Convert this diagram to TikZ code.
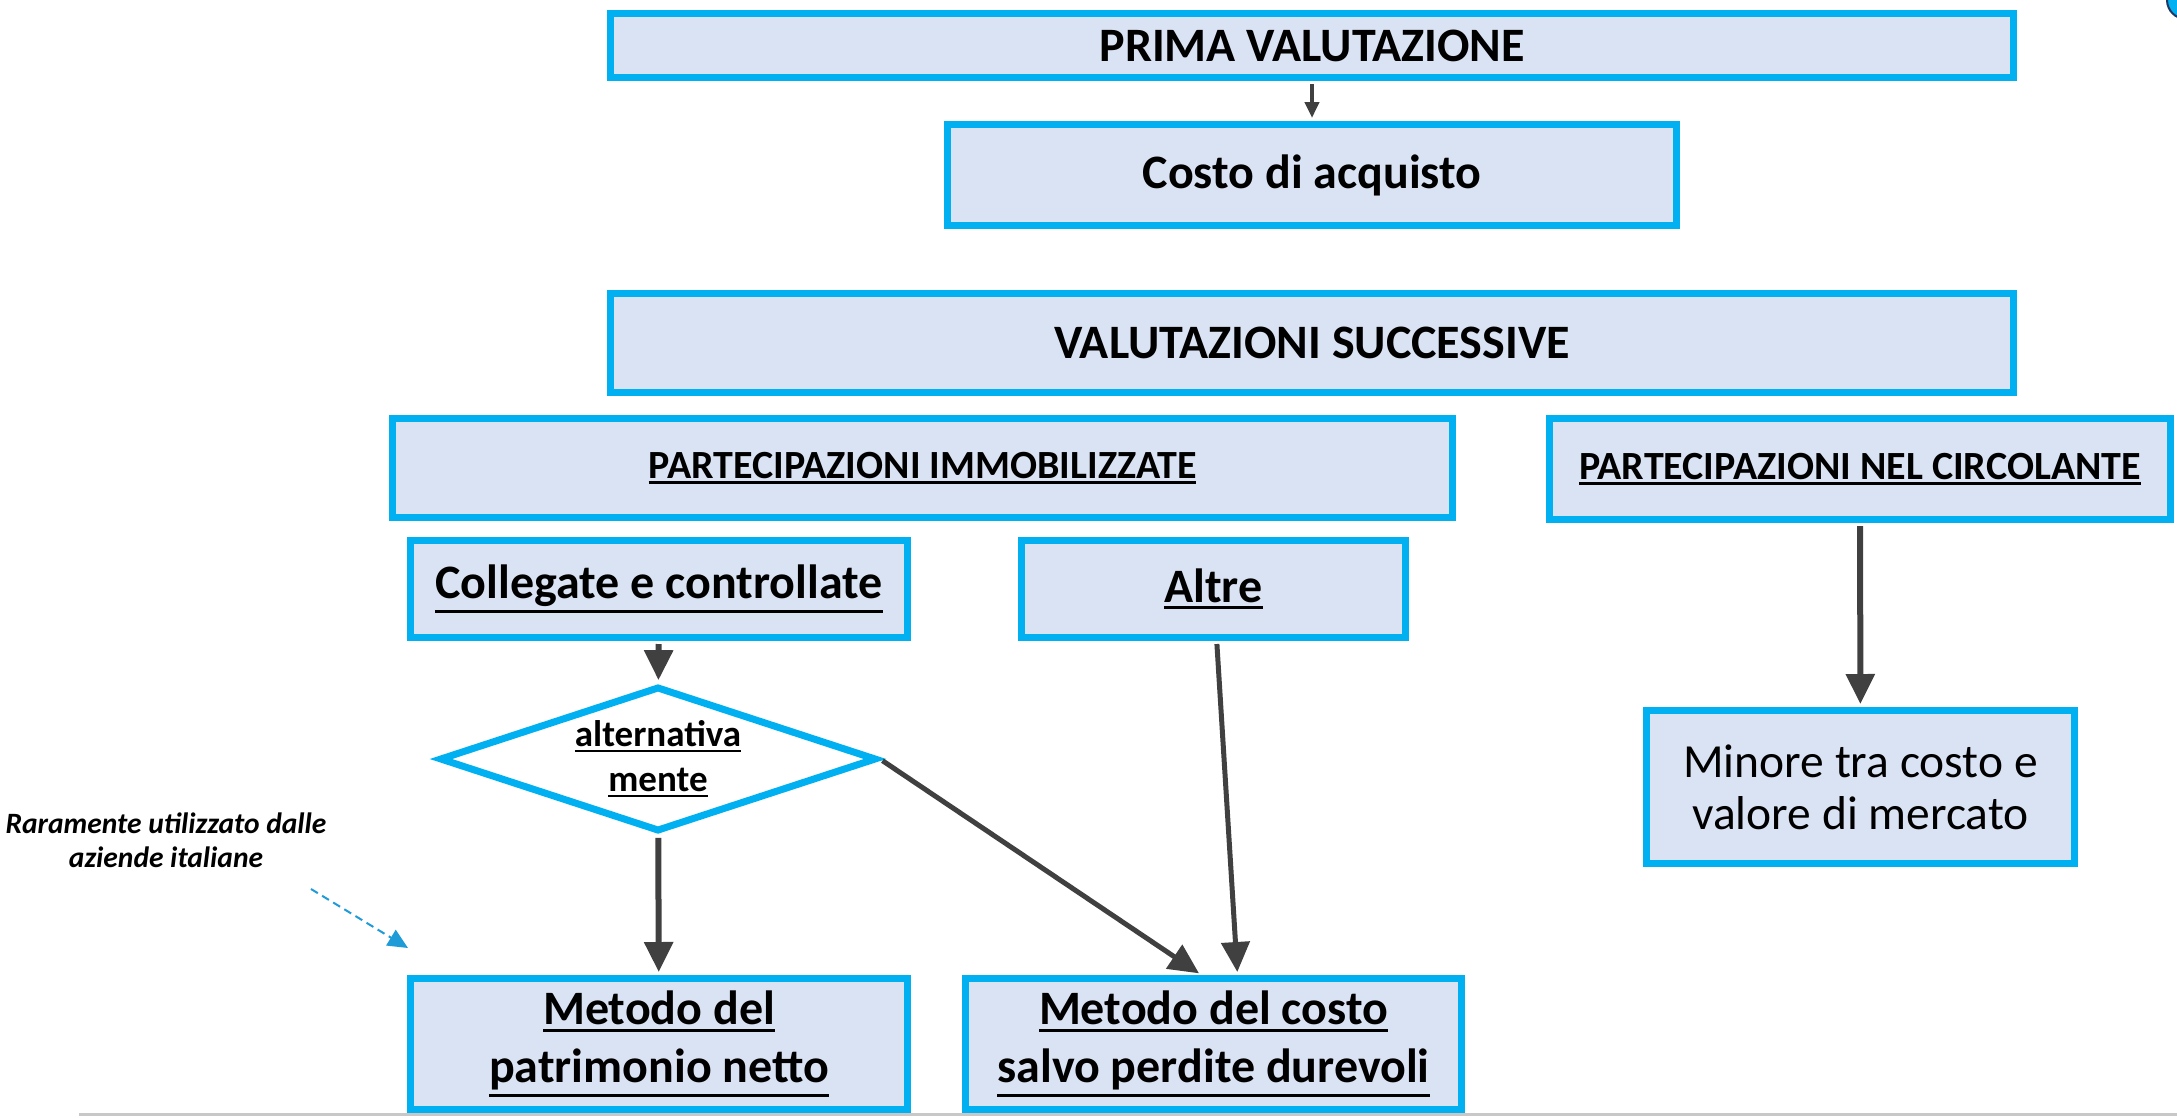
\documentclass[tikz,border=0pt]{standalone}
\usepackage{fontspec}
\setmainfont{Carlito}
\usetikzlibrary{shapes.geometric, arrows.meta}

\definecolor{cyanbox}{HTML}{00B0F0}
\definecolor{fillbox}{HTML}{DAE3F3}
\definecolor{linkgray}{HTML}{404040}
\definecolor{notecyan}{HTML}{1F9BD7}
\definecolor{rulegray}{HTML}{C8C8C8}
\definecolor{navy}{HTML}{1F3864}

\newcommand{\undl}[1]{\setbox0\hbox{#1}\leavevmode\vtop{\copy0\kern0.07em\hrule height 0.065em}}

\tikzset{
  box/.style={draw=cyanbox, fill=fillbox, line width=7pt, inner sep=0pt, align=center,
    font=\fontsize{48}{58}\selectfont\bfseries},
  link/.style={draw=linkgray, line width=6pt, shorten >=3pt, shorten <=3pt,
    -{Triangle[length=30pt,width=28pt]}},
}

\begin{document}
\begin{tikzpicture}[x={(1pt,0)}, y={(0,-1pt)}]
\useasboundingbox (0,0) rectangle (2177,1117);
% Bottom rule
\draw[rulegray, line width=3pt] (79,1114) -- (2177,1114);
\filldraw[fill=cyanbox, draw=navy, line width=2pt] (2186,0) circle (19);

% Prima valutazione
\node[box, minimum width=1403pt, minimum height=64pt] (prima) at (1312,45.5) {PRIMA VALUTAZIONE};
\node[box, minimum width=729pt, minimum height=101pt] (costo) at (1312,175) {Costo di acquisto};

% Valutazioni successive
\node[box, minimum width=1403pt, minimum height=99pt] (valsucc) at (1312,343) {VALUTAZIONI SUCCESSIVE};
\node[box, minimum width=1060pt, minimum height=99pt, font=\fontsize{40}{48}\selectfont\bfseries] (immob) at (922.5,468) {\undl{PARTECIPAZIONI IMMOBILIZZATE}};
\node[box, minimum width=621pt, minimum height=101pt, font=\fontsize{40}{48}\selectfont\bfseries] (circol) at (1860,469) {\undl{PARTECIPAZIONI NEL CIRCOLANTE}};
\node[box, minimum width=497pt, minimum height=97pt] (colleg) at (659,589) {\undl{Collegate e controllate}};
\node[box, minimum width=384pt, minimum height=97pt] (altre) at (1213.5,589) {\undl{Altre}};
\node[box, diamond, aspect=2.9, fill=white, minimum width=437pt, minimum height=145pt,
  font=\fontsize{37}{45}\selectfont\bfseries] (alt) at (658,759) {\undl{alternativa}\\\undl{mente}};

% Metodi
\node[box, minimum width=497pt, minimum height=131pt] (patrim) at (659,1044) {\undl{Metodo del}\\\undl{patrimonio netto}};
\node[box, minimum width=496pt, minimum height=131pt] (metcosto) at (1213.5,1044) {\undl{Metodo del costo}\\\undl{salvo perdite durevoli}};
\node[box, minimum width=428pt, minimum height=153pt, font=\fontsize{47.5}{52}\selectfont] (minore) at (1860.5,787) {Minore tra costo e\\valore di mercato};

% Nota
\node[align=center, font=\fontsize{29.5}{34}\selectfont\bfseries\itshape] (nota) at (166,840) {Raramente utilizzato dalle\\aziende italiane};
\coordinate (notas) at (311,889);
\coordinate (notae) at (408,948);
\draw[notecyan, line width=2pt, dash pattern=on 8pt off 5pt, -{Triangle[length=20pt,width=18pt]}] (notas) -- (notae);

% Links
\draw[link, line width=4pt, -{Triangle[length=16pt,width=14pt]}] (prima) -- (costo);
\draw[link] (colleg) -- (alt);
\draw[link] (alt) -- (patrim);
\draw[link, line width=5pt] (alt.east) -- ([xshift=-12pt]metcosto.north);
\draw[link, line width=5pt] (altre) -- ([xshift=24pt]metcosto.north);
\draw[link] (circol) -- (minore);
\end{tikzpicture}
\end{document}
